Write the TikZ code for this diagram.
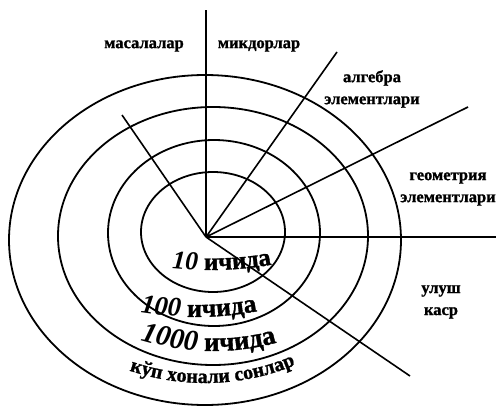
\documentclass[tikz,border=0pt]{standalone}
\usepackage{fontspec}
\setmainfont{Liberation Serif}[BoldFeatures={FakeBold=1.2}]
\usetikzlibrary{decorations.text}

\newcommand{\lblfont}{\bfseries\fontsize{16.5}{22}\selectfont}
\newcommand{\ringfont}[1]{\bfseries\fontsize{#1}{#1}\selectfont}

\begin{document}
\begin{tikzpicture}[x=1pt, y=-1pt,
    ring/.style={line width=1.8pt},
    ray/.style={line width=1.6pt},
    lbl/.style={font=\lblfont, align=center, inner sep=0pt},
    arclbl/.style={decorate, decoration={text along path, text align=center,
                   text={#1}}}
]
\useasboundingbox (0,0) rectangle (496,415);
\clip (0,0) rectangle (496,415);

% rings
\draw[ring] (213,232) ellipse [x radius=72pt, y radius=60pt];
\draw[ring] (214,233) ellipse [x radius=106pt, y radius=93pt];
\draw[ring] (213,236) ellipse [x radius=155pt, y radius=129pt];
\draw[ring] (205,240) ellipse [x radius=196pt, y radius=165pt];

% rays
\coordinate (mid) at (206,237);
\coordinate (rayMas) at (122,115);
\coordinate (rayMiq) at (206,10);
\coordinate (rayAlg) at (337,52);
\coordinate (rayGeo) at (468,107);
\coordinate (rayHor) at (496,237);
\coordinate (rayUlu) at (410,376);
\foreach \r in {rayMas,rayMiq,rayAlg,rayGeo,rayHor,rayUlu}
    \draw[ray] (mid) -- (\r);

\node[lbl] (masalalar) at (144,46) {масалалар};
\node[lbl] (miqdorlar) at (259,46) {микдорлар};
\node[lbl] (algebra) at (372,89) {алгебра\\элементлари};
\node[lbl] (geometriya) at (448,189) {геометрия\\элементлари};
\node[lbl] (ulush) at (441,302) {улуш\\каср};

% texts along the rings
\path[arclbl={|\ringfont{26}\itshape|10|\ringfont{25}| ичида}]
    plot[domain=140:20, samples=60] ({210+120*cos(\x)}, {232+38*sin(\x)});
\path[arclbl={|\ringfont{27}\itshape|100|\ringfont{26}| ичида}]
    plot[domain=148:28, samples=60] ({195+170*cos(\x)}, {233+84*sin(\x)});
\path[arclbl={|\ringfont{29}\itshape|1000|\ringfont{27}| ичида}]
    plot[domain=152:32, samples=60] ({213+170*cos(\x)}, {236+115*sin(\x)});
\path[arclbl={|\ringfont{20}|кўп хонали сонлар}]
    plot[domain=147:27, samples=60] ({205+185*cos(\x)}, {240+143*sin(\x)});

\end{tikzpicture}
\end{document}
